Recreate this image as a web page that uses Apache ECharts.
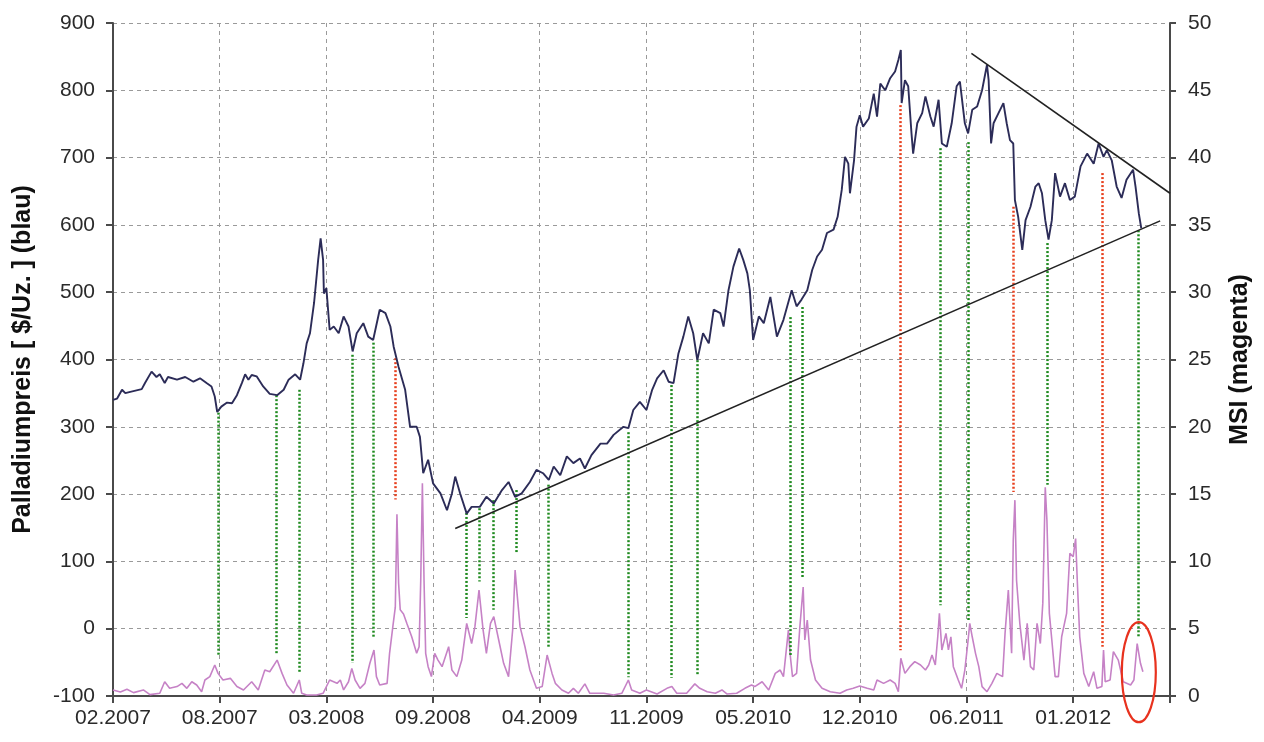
<!DOCTYPE html>
<html>
<head>
<meta charset="utf-8">
<script src="https://cdn.jsdelivr.net/npm/echarts@6/dist/echarts.min.js"></script>
<style>
  html, body { margin: 0; padding: 0; background: #fff; }
  #chart { width: 1264px; height: 742px; }
</style>
</head>
<body>
<div id="chart"></div>
<script>
// x axis = trading-day index, one label every 130 days
var xLabels = ['02.2007', '08.2007', '03.2008', '09.2008', '04.2009', '11.2009', '05.2010', '12.2010', '06.2011', '01.2012'];

// Palladium price ($/oz), left axis
var priceDay = [0,5,11,15,21,35,39,47,53,57,63,67,78,88,98,106,114,120,124,127,132,139,145,151,157,161,165,169,175,183,191,200,208,214,222,228,232,236,240,245,250,253,256,257,260,264,269,275,281,287,292,297,305,311,317,325,332,338,342,348,356,362,370,374,378,384,390,399,407,413,417,423,431,437,447,455,464,474,482,490,498,508,516,524,531,537,545,553,561,569,575,583,594,602,610,622,628,634,642,650,657,663,671,677,683,689,695,701,707,712,719,726,732,740,744,750,756,763,768,773,776,780,787,793,801,809,817,827,833,839,846,852,858,864,870,878,883,888,892,896,898,903,906,910,914,921,927,931,935,941,947,953,957,960,961,965,969,973,975,980,986,990,996,1000,1006,1010,1016,1022,1028,1032,1038,1042,1047,1053,1059,1065,1067,1070,1073,1079,1085,1089,1093,1097,1099,1103,1108,1112,1118,1124,1128,1132,1136,1140,1144,1148,1154,1160,1166,1172,1179,1187,1195,1201,1207,1211,1217,1223,1229,1235,1243,1246,1250,1253];
var priceVal = [340,342,355,350,352,356,365,382,374,378,365,374,370,374,367,372,365,360,345,322,330,336,335,347,365,378,370,377,375,360,349,347,355,370,378,370,394,424,439,484,548,580,548,498,506,444,449,439,464,449,412,439,454,434,429,474,469,449,419,389,355,300,300,285,231,251,216,201,176,201,226,201,171,181,181,196,186,206,218,196,201,218,236,231,221,241,228,256,246,253,238,258,275,275,288,300,298,325,337,325,355,372,384,367,365,409,434,464,439,399,439,424,474,469,449,503,538,565,548,528,503,429,464,454,493,434,459,503,479,489,503,533,553,563,588,593,612,652,701,691,647,696,746,763,746,758,795,761,810,800,818,828,845,860,781,815,806,736,706,751,766,791,761,746,786,721,716,751,806,813,751,736,771,776,800,838,815,721,751,766,781,751,726,721,637,612,563,607,627,657,662,647,607,578,607,677,642,662,637,642,687,706,691,721,701,711,696,657,640,667,682,657,617,595];

// MSI, right axis
var msiDay = [0,9,17,25,37,45,57,63,69,78,84,90,96,102,108,112,118,124,128,134,143,151,159,169,177,185,191,200,206,212,220,227,230,236,248,256,264,273,277,281,287,291,295,301,307,313,318,321,325,334,337,341,344,346,348,350,354,358,364,370,373,375,377,379,381,384,388,392,396,401,409,413,419,425,431,437,441,446,451,455,460,464,470,476,482,487,490,492,496,502,508,516,523,529,535,539,547,555,561,567,575,581,598,610,620,628,632,642,650,663,675,681,687,699,709,715,724,734,742,748,760,770,778,782,791,799,807,813,817,823,825,828,833,837,841,843,846,850,856,864,874,886,894,902,910,919,927,931,939,947,953,957,960,965,971,977,984,990,994,998,1002,1005,1007,1010,1015,1018,1021,1024,1030,1034,1038,1042,1044,1047,1051,1055,1059,1065,1071,1077,1084,1087,1091,1095,1097,1099,1101,1105,1110,1114,1118,1122,1126,1130,1133,1136,1138,1141,1144,1148,1152,1156,1162,1166,1170,1173,1175,1178,1183,1189,1195,1199,1205,1207,1209,1215,1219,1225,1231,1240,1244,1248,1252,1255];
var msiVal = [0.45,0.3,0.5,0.25,0.45,0.1,0.2,1.06,0.57,0.7,0.94,0.57,1.06,0.82,0.32,1.19,1.44,2.3,1.68,1.19,1.31,0.7,0.45,1.06,0.45,1.93,1.8,2.67,1.68,0.82,0.2,1.19,0.2,0.07,0.07,0.2,1.19,0.94,1.19,0.45,1.06,2.05,1.19,0.57,0.94,2.43,3.42,1.44,0.82,0.94,3.17,5.15,6.6,13.5,8.4,6.4,6.1,5.4,4.4,3.17,3.66,8.6,15.8,8.6,3.17,2.18,1.44,3.17,2.67,2.18,3.66,1.93,1.44,2.67,5.4,3.9,5.15,7.87,4.9,3.17,5.4,5.9,4.16,2.43,1.44,4.9,9.36,7.87,5.15,3.66,1.93,0.57,0.7,3.04,1.68,0.94,0.45,0.2,0.57,0.2,0.9,0.2,0.2,0.07,0.2,1.19,0.45,0.2,0.45,0.15,0.57,0.7,0.2,0.2,0.9,0.57,0.32,0.2,0.45,0.15,0.2,0.57,0.82,0.7,1.06,0.45,1.68,1.93,1.44,4.9,3.17,1.44,1.68,5.15,8.1,4.16,5.64,2.67,1.19,0.57,0.32,0.2,0.45,0.57,0.74,0.57,0.45,1.19,0.94,1.19,0.94,0.32,2.8,1.68,2.18,2.55,2.3,1.93,2.3,3.04,2.3,4.4,6.14,3.42,4.65,3.42,4.4,2.18,1.19,0.57,1.93,4.16,5.4,4.4,3.17,2.18,0.7,0.32,0.94,1.68,1.44,4.65,7.87,3.17,11.58,14.55,8.6,5.4,2.67,5.4,2.18,1.93,5.4,3.9,6.9,15.5,13.07,6.14,4.16,1.44,1.44,4.4,6.14,10.6,10.35,11.7,8.6,4.4,1.68,0.7,1.8,0.57,0.7,3.42,1.06,1.19,3.3,2.67,1.06,0.82,1.19,3.9,2.43,1.8];

// signal markers: day, price at top, MSI at bottom, g = green / r = red
var sigDay = [128,199,227,291,317,344,430,446,463,491,530,628,680,712,825,840,959,1008,1042,1097,1138,1205,1249];
var sigTop = [321,347,355,407,425,402,172,179,191,206,214,292,362,399,463,478,778,714,723,627,573,677,592];
var sigMsi = [3.05,3.05,1.7,2.45,4.3,14.6,5.8,8.5,6.4,10.6,3.6,1.4,1.35,1.55,3.05,8.75,3.4,6.75,5.65,15.15,15.7,3.65,4.4];
var sigKind = ['g','g','g','g','g','r','g','g','g','g','g','g','g','g','g','g','r','g','g','r','g','r','g'];

// trend lines (day, price)
var supportDay = [417, 1276];
var supportVal = [149, 606];
var resistDay = [1046, 1288];
var resistVal = [855, 647];

// ring around last MSI signal (day, MSI)
var ringDay = 1250;
var ringMsi = 1.77;

var priceMin = -100, priceMax = 900, msiMax = 50;
var FONT = "'Liberation Sans', Arial, sans-serif";

function zip(a, b) {
    var out = [];
    for (var i = 0; i < a.length; i++) out.push([a[i], b[i]]);
    return out;
}
function msiOnPriceAxis(m) {
    return priceMin + m / msiMax * (priceMax - priceMin);
}

var sigData = sigDay.map(function (d, i) {
    return {
        coords: [[d, sigTop[i]], [d, msiOnPriceAxis(sigMsi[i])]],
        lineStyle: { color: sigKind[i] === 'r' ? '#e8401e' : '#1f8a1f' }
    };
});

var chart = echarts.init(document.getElementById('chart'));

var gridLine = { show: true, lineStyle: { color: '#9a9a9a', type: [4, 4], width: 1 } };

var option = {
    animation: false,
    backgroundColor: '#fff',
    grid: { left: 113, right: 94, top: 23, bottom: 46 },
    xAxis: {
        type: 'value',
        min: 0,
        max: 1288,
        interval: 130,
        axisLine: { show: true, onZero: false, lineStyle: { color: '#4a4a4a', width: 2 } },
        axisTick: { show: true, length: 7, lineStyle: { color: '#4a4a4a', width: 2 } },
        axisLabel: {
            color: '#2a2a2a', fontFamily: FONT, fontSize: 21, margin: 12,
            formatter: function (v) { return v % 130 === 0 ? (xLabels[v / 130] || '') : ''; }
        },
        splitLine: gridLine
    },
    yAxis: [
        {
            type: 'value',
            min: priceMin,
            max: priceMax,
            interval: 100,
            name: 'Palladiumpreis [ $/Uz. ] (blau)',
            nameLocation: 'middle',
            nameRotate: 90,
            nameGap: 77,
            nameTextStyle: { color: '#111', fontFamily: FONT, fontSize: 25, fontWeight: 'bold' },
            axisLine: { show: true, onZero: false, lineStyle: { color: '#4a4a4a', width: 2 } },
            axisTick: { show: true, length: 7, lineStyle: { color: '#4a4a4a', width: 2 } },
            axisLabel: { color: '#2a2a2a', fontFamily: FONT, fontSize: 21, margin: 18 },
            splitLine: gridLine
        },
        {
            type: 'value',
            min: 0,
            max: msiMax,
            interval: 5,
            position: 'right',
            name: 'MSI (magenta)',
            nameLocation: 'middle',
            nameRotate: 90,
            nameGap: 58,
            nameTextStyle: { color: '#111', fontFamily: FONT, fontSize: 25, fontWeight: 'bold' },
            axisLine: { show: true, onZero: false, lineStyle: { color: '#4a4a4a', width: 2 } },
            axisTick: { show: true, length: 6, lineStyle: { color: '#4a4a4a', width: 2 } },
            axisLabel: { color: '#2a2a2a', fontFamily: FONT, fontSize: 21, margin: 18 },
            splitLine: { show: false }
        }
    ],
    series: [
        {
            name: 'MSI',
            type: 'line',
            yAxisIndex: 1,
            showSymbol: false,
            data: zip(msiDay, msiVal),
            lineStyle: { color: '#c682c6', width: 1.6 },
            z: 2
        },
        {
            name: 'signals',
            type: 'lines',
            coordinateSystem: 'cartesian2d',
            xAxisIndex: 0,
            yAxisIndex: 0,
            data: sigData,
            lineStyle: { width: 2.5, type: [2, 2], opacity: 1 },
            z: 3
        },
        {
            name: 'Palladium',
            type: 'line',
            yAxisIndex: 0,
            showSymbol: false,
            data: zip(priceDay, priceVal),
            lineStyle: { color: '#2c2c58', width: 1.9 },
            z: 4
        },
        {
            name: 'support',
            type: 'line',
            yAxisIndex: 0,
            showSymbol: false,
            data: zip(supportDay, supportVal),
            lineStyle: { color: '#222', width: 1.6 },
            z: 5
        },
        {
            name: 'resistance',
            type: 'line',
            yAxisIndex: 0,
            showSymbol: false,
            data: zip(resistDay, resistVal),
            lineStyle: { color: '#222', width: 1.6 },
            z: 5
        }
    ]
};
chart.setOption(option);

var c = chart.convertToPixel({ xAxisIndex: 0, yAxisIndex: 1 }, [ringDay, ringMsi]);
chart.setOption({
    graphic: [{
        type: 'ellipse',
        shape: { cx: c[0], cy: c[1], rx: 17, ry: 50 },
        style: { fill: 'none', stroke: '#e8321e', lineWidth: 2.2 },
        z: 100
    }]
});
</script>
</body>
</html>
